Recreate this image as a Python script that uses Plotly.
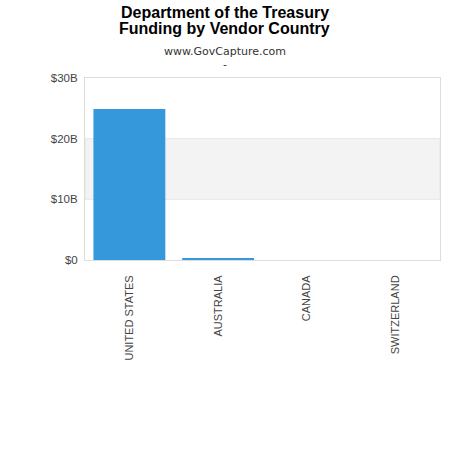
import plotly.graph_objects as go

# vendor countries and funding (dollars)
countries = ["UNITED STATES", "AUSTRALIA", "CANADA", "SWITZERLAND"]
funding = [24.9e9, 0.25e9, 0.0003e9, 0.0002e9]

tick_vals = [0, 10e9, 20e9, 30e9]
tick_text = ["$0", "$10B", "$20B", "$30B"]

title_lines = ["Department of the Treasury", "Funding by Vendor Country"]
subtitle_lines = ["www.GovCapture.com", "-"]

fig = go.Figure()
fig.add_trace(go.Bar(
    x=countries,
    y=funding,
    marker=dict(color="#3498db", line=dict(width=0)),
))

# alternating band between 10B and 20B
fig.add_shape(
    type="rect", xref="paper", yref="y",
    x0=0, x1=1, y0=tick_vals[1], y1=tick_vals[2],
    fillcolor="#f3f3f3", line=dict(width=1, color="#e6e6e6"), layer="below",
)

# headings centred on the page, not on the plot area
cx = 0.394
annots = []
for txt, yy in zip(title_lines, [1.36, 1.272]):
    annots.append(dict(
        text="<b>" + txt + "</b>", xref="paper", yref="paper",
        x=cx, y=yy, xanchor="center", yanchor="middle", showarrow=False,
        font=dict(family="Liberation Sans, Arial, sans-serif", size=16, color="black"),
    ))
for txt, yy in zip(subtitle_lines, [1.146, 1.072]):
    annots.append(dict(
        text=txt, xref="paper", yref="paper",
        x=cx, y=yy, xanchor="center", yanchor="middle", showarrow=False,
        font=dict(family="DejaVu Sans, sans-serif", size=11, color="#333"),
    ))

fig.update_layout(
    width=450, height=450,
    margin=dict(l=85, r=10, t=78, b=190),
    paper_bgcolor="white",
    plot_bgcolor="white",
    font=dict(family="Liberation Sans, Arial, sans-serif", color="#444"),
    showlegend=False,
    bargap=0.19,
    annotations=annots,
)

fig.update_xaxes(
    tickangle=-90, tickfont=dict(size=11),
    showline=True, linecolor="#dddddd", mirror=True, showgrid=False,
    ticks="", ticklabelstandoff=10,
)
fig.update_yaxes(
    range=[0, 30e9], tickvals=tick_vals, ticktext=tick_text,
    tickfont=dict(size=11.5),
    showline=True, linecolor="#dddddd", mirror=True,
    showgrid=False, zeroline=False, ticklabelstandoff=4,
)

fig.write_html("out.html", config={"displayModeBar": False},
               post_script="document.body.style.margin='0';")
